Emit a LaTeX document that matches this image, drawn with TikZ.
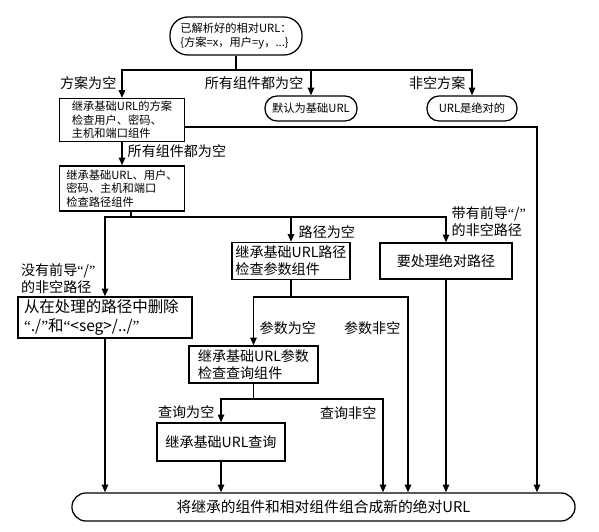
\documentclass[tikz,border=0pt]{standalone}
\usepackage{fontspec}
\setmainfont{Noto Sans CJK SC}
\newfontfamily\quotefont{Liberation Serif}
\newcommand{\quoted}[1]{{\quotefont “}#1{\quotefont ”}}
\usetikzlibrary{arrows.meta,calc}

\begin{document}
\begin{tikzpicture}[x=0.025cm,y=-0.025cm,
  proc/.style={draw,line width=0.9pt,align=left,inner sep=2pt,
               font=\fontsize{8}{9.5}\selectfont},
  bigproc/.style={proc,font=\fontsize{10}{12}\selectfont},
  term/.style={draw,line width=0.9pt,rounded corners=0.3cm,align=left,
               inner sep=2pt,font=\fontsize{8}{10}\selectfont},
  lbl/.style={font=\fontsize{10}{12}\selectfont,inner sep=1pt,align=left},
  wire/.style={line width=1.2pt},
  flow/.style={wire,-{Triangle[length=5.5pt,width=4.5pt]}},
]
\useasboundingbox (0,0) rectangle (599,532);

% nodes
\node[term,rounded corners=0.45cm,minimum width=3.3cm,minimum height=0.95cm] (parsed) at (236,36)
  {已解析好的相对URL：\\\{方案=x，用户=y，...\}};
\node[proc,minimum width=3.125cm,minimum height=0.95cm] (inhscheme) at (122,120)
  {继承基础URL的方案\\检查用户、密码、\\主机和端口组件};
\node[term,minimum width=2.3cm,minimum height=0.625cm] (dflt) at (311,108.5) {默认为基础URL};
\node[term,minimum width=2.25cm,minimum height=0.625cm] (absurl) at (472,108.5) {URL是绝对的};
\node[proc,minimum width=3.125cm,minimum height=1.125cm] (inhnet) at (122,188.5)
  {继承基础URL、用户、\\密码、主机和端口\\检查路径组件};
\node[bigproc,minimum width=2.95cm,minimum height=0.925cm] (inhpath) at (291,261)
  {继承基础URL路径\\检查参数组件};
\node[bigproc,minimum width=3.3cm,minimum height=0.9cm] (abspath) at (446,261) {要处理绝对路径};
\node[bigproc,font=\fontsize{11}{13}\selectfont,minimum width=4.35cm,minimum height=0.925cm] (dotseg) at (105,317.5)
  {从在处理的路径中删除\\\quoted{./}和\quoted{<seg>/../}\hspace*{3em}};
\node[bigproc,minimum width=3.225cm,minimum height=0.925cm] (inhparam) at (253.5,364.5)
  {继承基础URL参数\\检查查询组件};
\node[bigproc,minimum width=3.2cm,minimum height=0.95cm] (inhquery) at (221,442) {继承基础URL查询};
\node[term,rounded corners=0.35cm,font=\fontsize{10.5}{12}\selectfont,minimum width=12.575cm,minimum height=0.7cm] (combine) at (323.5,507)
  {将继承的组件和相对组件组合成新的绝对URL};

% branch points
\coordinate (b1) at (236,70);
\coordinate (r1) at (537,127);
\coordinate (b2) at (131,217);
\coordinate (b3) at (291,297);
\coordinate (b3r) at (408,297);
\coordinate (b4) at (253.5,399);
\coordinate (b4r) at (383,399);

% connectors
\draw[wire] (parsed.south) -- (b1);
\draw[flow] (b1) -| (inhscheme.north);
\draw[flow] (b1) -| (dflt.north);
\draw[flow] (b1) -| (absurl.north);
\draw[flow] (inhscheme.east |- r1) -- (r1) -- (r1 |- combine.north);
\draw[flow] (inhscheme) -- (inhnet);
\draw[wire] (b2 |- inhnet.south) -- (b2);
\draw[flow] (b2) -| (dotseg.north);
\draw[flow] (b2) -| (inhpath.north);
\draw[flow] (b2) -| (abspath.north);
\draw[flow] (dotseg.south) -- (dotseg.south |- combine.north);
\draw[flow] (abspath.south) -- (abspath.south |- combine.north);
\draw[wire] (inhpath.south) -- (b3);
\draw[flow] (b3) -| (inhparam.north);
\draw[flow] (b3) -- (b3r) -- (b3r |- combine.north);
\draw[wire] (inhparam.south) -- (b4);
\draw[flow] (b4) -| (inhquery.north);
\draw[flow] (b4) -- (b4r) -- (b4r |- combine.north);
\draw[flow] (inhquery.south) -- (inhquery.south |- combine.north);

% labels
\node[lbl,anchor=east] (l1) at (118,83) {方案为空};
\node[lbl,anchor=east] (l2) at (305,83) {所有组件都为空};
\node[lbl,anchor=east] (l3) at (467,83) {非空方案};
\node[lbl,anchor=west] (l4) at (126,151) {所有组件都为空};
\node[lbl,anchor=east] (l5) at (97,279) {没有前导\quoted{/}\\的非空路径};
\node[lbl,anchor=west] (l6) at (297,232) {路径为空};
\node[lbl,anchor=west] (l7) at (450,222) {带有前导\quoted{/}\\的非空路径};
\node[lbl,anchor=west] (l8) at (258,328) {参数为空};
\node[lbl,anchor=east] (l9) at (402,328) {参数非空};
\node[lbl,anchor=east] (l10) at (216,412) {查询为空};
\node[lbl,anchor=east] (l11) at (378,413) {查询非空};
\end{tikzpicture}
\end{document}
